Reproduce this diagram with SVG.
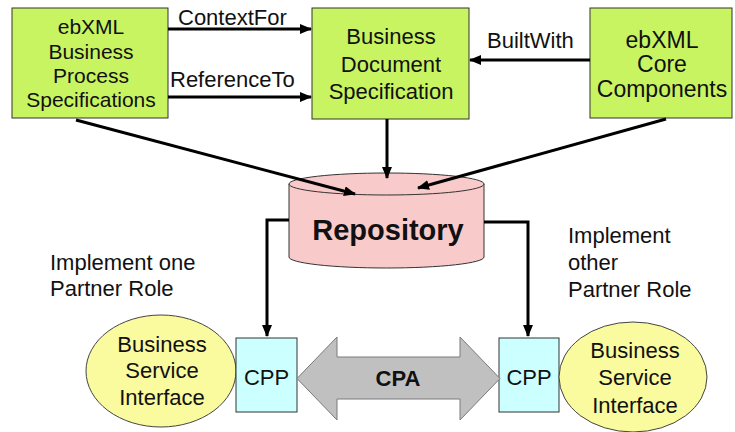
<svg xmlns="http://www.w3.org/2000/svg" width="735" height="432" viewBox="0 0 735 432">
  <style>
    text { font-family: "Liberation Sans", Arial, sans-serif; fill: #111; }
    .spec { fill: #c8f462; stroke: #333; stroke-width: 1; }
    .lbl { font-size: 22px; }
    .node { font-size: 22px; text-anchor: middle; }
    .flow { fill: none; stroke: #000; stroke-width: 3; marker-end: url(#head); }
    .cpp { fill: #ccffff; stroke: #333; stroke-width: 1; }
    .bsi { fill: #fafa9e; stroke: #444; stroke-width: 1; }
  </style>
  <defs>
    <marker id="head" markerUnits="userSpaceOnUse" markerWidth="12" markerHeight="10" refX="11" refY="5" orient="auto">
      <path d="M0,0 L12,5 L0,10 z" fill="#000"/>
    </marker>
  </defs>

  <rect width="735" height="432" fill="#fff"/>

  <!-- specification boxes -->
  <g id="bp-spec">
    <rect class="spec" x="12" y="8" width="156" height="110"/>
    <text class="node" x="91" y="34" style="font-size:21px">ebXML</text>
    <text class="node" x="91" y="59" style="font-size:21px">Business</text>
    <text class="node" x="91" y="83" style="font-size:21px">Process</text>
    <text class="node" x="91" y="107" style="font-size:21px">Specifications</text>
  </g>
  <g id="doc-spec">
    <rect class="spec" x="312" y="8" width="157" height="111"/>
    <text class="node" x="391" y="44">Business</text>
    <text class="node" x="391" y="72">Document</text>
    <text class="node" x="391" y="99">Specification</text>
  </g>
  <g id="core-components">
    <rect class="spec" x="590" y="8" width="142" height="110"/>
    <text class="node" x="662" y="48" style="font-size:23px">ebXML</text>
    <text class="node" x="662" y="72" style="font-size:23px">Core</text>
    <text class="node" x="662" y="97" style="font-size:23px">Components</text>
  </g>

  <!-- repository cylinder -->
  <g id="repository">
    <path d="M289,184 L289,257 A97.5,11 0 0 0 484,257 L484,184" fill="#f9caca" stroke="#333" stroke-width="1"/>
    <ellipse cx="386.5" cy="184" rx="97.5" ry="11" fill="#f9caca" stroke="#333" stroke-width="1"/>
    <text x="388" y="240" text-anchor="middle" style="font-size:29px;font-weight:bold">Repository</text>
  </g>

  <!-- partner side labels -->
  <g id="note-left">
    <text class="lbl" x="50" y="270">Implement one</text>
    <text class="lbl" x="50" y="296">Partner Role</text>
  </g>
  <g id="note-right">
    <text class="lbl" x="568" y="243">Implement</text>
    <text class="lbl" x="568" y="270">other</text>
    <text class="lbl" x="568" y="297">Partner Role</text>
  </g>

  <!-- business service interfaces and CPPs -->
  <g id="bsi-left">
    <ellipse class="bsi" cx="161" cy="371" rx="75" ry="56"/>
    <text class="node" x="162" y="352">Business</text>
    <text class="node" x="162" y="378">Service</text>
    <text class="node" x="162" y="405">Interface</text>
  </g>
  <g id="cpp-left">
    <rect class="cpp" x="236" y="338" width="61" height="74"/>
    <text class="node" x="266.5" y="385">CPP</text>
  </g>
  <g id="cpp-right">
    <rect class="cpp" x="499" y="338" width="60" height="74"/>
    <text class="node" x="529" y="385">CPP</text>
  </g>
  <g id="bsi-right">
    <ellipse class="bsi" cx="633" cy="377" rx="74" ry="55"/>
    <text class="node" x="635" y="358">Business</text>
    <text class="node" x="635" y="385">Service</text>
    <text class="node" x="635" y="413">Interface</text>
  </g>

  <!-- CPA agreement -->
  <g id="cpa">
    <path d="M297,378.5 L337,337 L337,357 L460,357 L460,337 L500,378.5 L460,420 L460,399 L337,399 L337,420 z" fill="#c0c0c0" stroke="#7a7a7a" stroke-width="1"/>
    <text x="398" y="386" text-anchor="middle" style="font-size:22px;font-weight:bold">CPA</text>
  </g>

  <!-- connectors -->
  <g id="connectors">
    <path class="flow" d="M168,29 L311,29"/>
    <path class="flow" d="M168,97 L311,97"/>
    <path class="flow" d="M590,60 L470,60"/>
    <path class="flow" d="M76,120 L355,194"/>
    <path class="flow" d="M387,119 L387,178"/>
    <path class="flow" d="M666,119 L418,188"/>
    <path class="flow" d="M289,220 L267,220 L267,336"/>
    <path class="flow" d="M484,222 L528,222 L528,336"/>
    <text class="lbl" x="178" y="25">ContextFor</text>
    <text class="lbl" x="170" y="87">ReferenceTo</text>
    <text class="lbl" x="487" y="48">BuiltWith</text>
  </g>
</svg>
